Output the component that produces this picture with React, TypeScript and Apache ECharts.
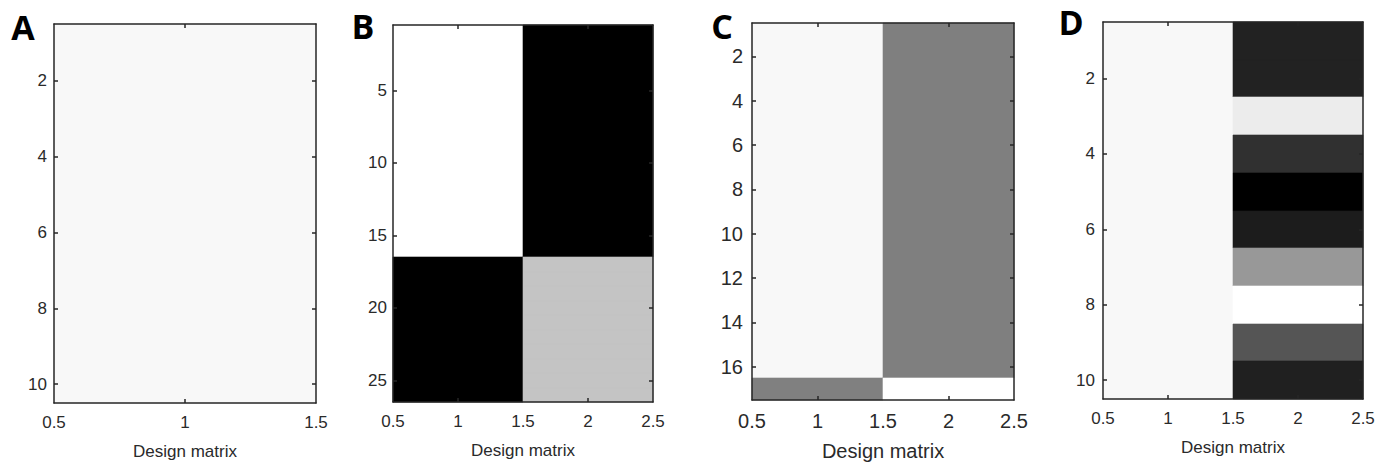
import React, { useEffect, useRef } from "react";
import * as echarts from "echarts";

// ---- Data (gray levels 0..255 per matrix column, one value per row) ----
const panelLetters = ["A", "B", "C", "D"];

const matA_col1 = [248, 248, 248, 248, 248, 248, 248, 248, 248, 248];

const matB_col1 = [255, 255, 255, 255, 255, 255, 255, 255, 255, 255, 255, 255, 255, 255, 255, 255, 0, 0, 0, 0, 0, 0, 0, 0, 0, 0];
const matB_col2 = [0, 0, 0, 0, 0, 0, 0, 0, 0, 0, 0, 0, 0, 0, 0, 0, 196, 196, 196, 196, 196, 196, 196, 196, 196, 196];

const matC_col1 = [248, 248, 248, 248, 248, 248, 248, 248, 248, 248, 248, 248, 248, 248, 248, 248, 128];
const matC_col2 = [127, 127, 127, 127, 127, 127, 127, 127, 127, 127, 127, 127, 127, 127, 127, 127, 255];

const matD_col1 = [248, 248, 248, 248, 248, 248, 248, 248, 248, 248];
const matD_col2 = [34, 34, 236, 48, 0, 28, 152, 255, 85, 32];

const xLabelsA = [0.5, 1, 1.5];
const xLabels2 = [0.5, 1, 1.5, 2, 2.5];
const xTicksA = [1];
const xTicks2 = [1, 2];

const yTicksA = [2, 4, 6, 8, 10];
const yTicksB = [5, 10, 15, 20, 25];
const yTicksC = [2, 4, 6, 8, 10, 12, 14, 16];
const yTicksD = [2, 4, 6, 8, 10];

const xAxisTitle = "Design matrix";

const panels = [
  { cols: [matA_col1], xLabels: xLabelsA, xTicks: xTicksA, yTicks: yTicksA,
    grid: { left: 54, top: 24, width: 262, height: 379 }, font: 17, yMargin: 7, letterPos: [23, 27] },
  { cols: [matB_col1, matB_col2], xLabels: xLabels2, xTicks: xTicks2, yTicks: yTicksB,
    grid: { left: 393, top: 25, width: 260, height: 377 }, font: 17, yMargin: 6, letterPos: [363, 26] },
  { cols: [matC_col1, matC_col2], xLabels: xLabels2, xTicks: xTicks2, yTicks: yTicksC,
    grid: { left: 752, top: 23, width: 262, height: 377 }, font: 20, yMargin: 9, letterPos: [722, 26] },
  { cols: [matD_col1, matD_col2], xLabels: xLabels2, xTicks: xTicks2, yTicks: yTicksD,
    grid: { left: 1103, top: 22, width: 260, height: 377 }, font: 17, yMargin: 8, letterPos: [1071, 22] },
];

const AXIS_COLOR = "#262626";
const TEXT_COLOR = "#2a2a2a";
const FONT = "Liberation Sans";

export default function App() {
  const ref = useRef<HTMLDivElement>(null);

  useEffect(() => {
    document.body.style.margin = "0";
    if (!ref.current) return;
    const chart = echarts.init(ref.current, null, { renderer: "svg" });

    const grids: any[] = [];
    const xAxes: any[] = [];
    const yAxes: any[] = [];
    const series: any[] = [];
    const graphics: any[] = [];

    panels.forEach((p, i) => {
      const nCols = p.cols.length;
      const nRows = p.cols[0].length;
      grids.push({ ...p.grid, containLabel: false });
      const lineCommon = { show: true, lineStyle: { color: AXIS_COLOR, width: 1.5 } };
      const tickCommon = { show: true, inside: true, length: 4, lineStyle: { color: AXIS_COLOR, width: 1.5 } };
      xAxes.push({
        type: "value", gridIndex: i, position: "bottom", min: 0.5, max: nCols + 0.5, z: 10,
        axisLine: lineCommon,
        axisTick: { ...tickCommon, customValues: p.xTicks },
        axisLabel: { show: true, customValues: p.xLabels, margin: 11, color: TEXT_COLOR, fontSize: p.font, fontFamily: FONT },
        splitLine: { show: false },
        name: xAxisTitle, nameLocation: "middle", nameGap: p.font === 20 ? 41 : 40,
        nameTextStyle: { color: TEXT_COLOR, fontSize: p.font, fontFamily: FONT },
      });
      xAxes.push({
        type: "value", gridIndex: i, position: "top", min: 0.5, max: nCols + 0.5, z: 10,
        axisLine: lineCommon,
        axisTick: { ...tickCommon, customValues: p.xTicks },
        axisLabel: { show: false },
        splitLine: { show: false },
      });
      yAxes.push({
        type: "value", gridIndex: i, position: "left", inverse: true, min: 0.5, max: nRows + 0.5, z: 10,
        axisLine: lineCommon,
        axisTick: { ...tickCommon, customValues: p.yTicks },
        axisLabel: { show: true, customValues: p.yTicks, margin: p.yMargin, color: TEXT_COLOR, fontSize: p.font, fontFamily: FONT },
        splitLine: { show: false },
      });
      yAxes.push({
        type: "value", gridIndex: i, position: "right", inverse: true, min: 0.5, max: nRows + 0.5, z: 10,
        axisLine: lineCommon,
        axisTick: { ...tickCommon, customValues: p.yTicks },
        axisLabel: { show: false },
        splitLine: { show: false },
      });

      const data: number[][] = [];
      p.cols.forEach((col, ci) => {
        col.forEach((g, ri) => data.push([ci + 1, ri + 1, g]));
      });

      series.push({
        type: "custom",
        xAxisIndex: 2 * i,
        yAxisIndex: 2 * i,
        z: 1,
        encode: { x: 0, y: 1 },
        data,
        renderItem: (params: any, api: any) => {
          const x = api.value(0);
          const y = api.value(1);
          const g = api.value(2);
          const p1 = api.coord([x - 0.5, y - 0.5]);
          const p2 = api.coord([x + 0.5, y + 0.5]);
          const x0 = Math.round(Math.min(p1[0], p2[0]));
          const y0 = Math.round(Math.min(p1[1], p2[1]));
          const x1 = Math.round(Math.max(p1[0], p2[0]));
          const y1 = Math.round(Math.max(p1[1], p2[1]));
          return {
            type: "rect",
            shape: { x: x0, y: y0, width: x1 - x0, height: y1 - y0 },
            style: { fill: `rgb(${g},${g},${g})`, stroke: `rgb(${g},${g},${g})`, lineWidth: 0.6 },
          };
        },
      });

      graphics.push({
        type: "text",
        x: p.letterPos[0],
        y: p.letterPos[1],
        style: {
          text: panelLetters[i],
          fontSize: 34,
          fontWeight: "bold",
          fontFamily: "Open Sans",
          fill: "#000",
          align: "center",
          verticalAlign: "middle",
        },
      });
    });

    chart.setOption({
      animation: false,
      backgroundColor: "#ffffff",
      grid: grids,
      xAxis: xAxes,
      yAxis: yAxes,
      series,
      graphic: graphics,
    });

    return () => chart.dispose();
  }, []);

  return <div ref={ref} style={{ width: 1389, height: 471 }} />;
}
